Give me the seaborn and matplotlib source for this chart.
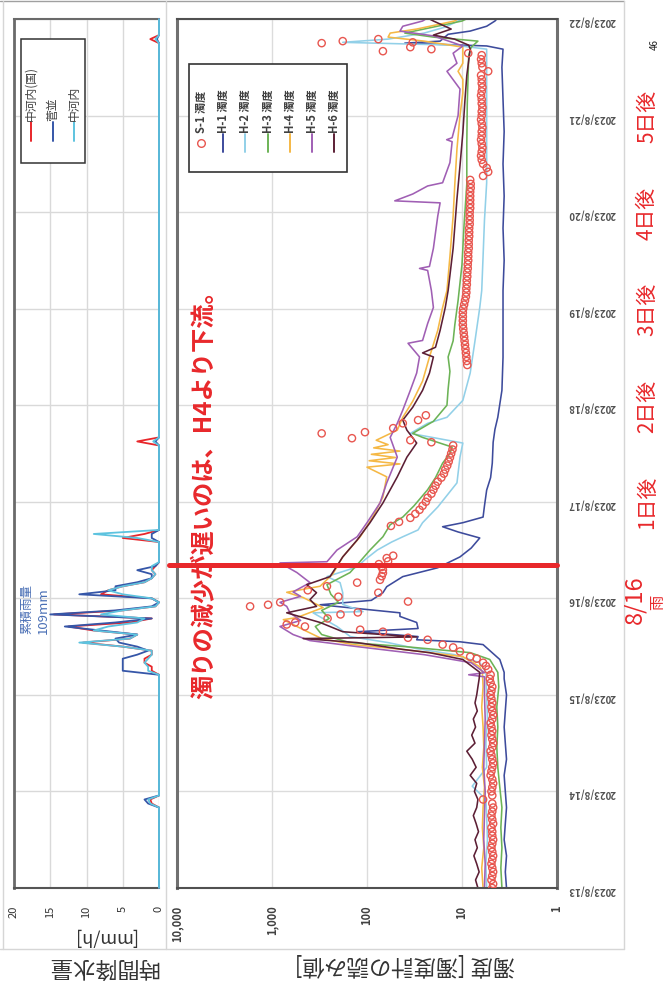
import numpy as np
import matplotlib
matplotlib.use("Agg")
import matplotlib.pyplot as plt
from matplotlib.lines import Line2D
from matplotlib.patches import Rectangle
import seaborn as sns

sns.set_style("white")
plt.rcParams["font.family"] = ["Noto Sans CJK JP", "DejaVu Sans"]

W, H = 669, 995

# ---------------- time axis (hours from 2023/8/13 00:00) ----------------
day_ticks = [0, 24, 48, 72, 96, 120, 144, 168, 192, 216]
day_labels = ["2023/8/13", "2023/8/14", "2023/8/15", "2023/8/16", "2023/8/17",
              "2023/8/18", "2023/8/19", "2023/8/20", "2023/8/21", "2023/8/22"]

# ---------------- hourly rainfall [mm/h] ----------------
rain_hours = [0, 20, 21, 22, 23,
              53, 54, 55, 56, 57, 58, 59, 60, 61, 62,
              63, 64, 65, 66, 67, 68, 69, 70, 71, 72,
              73, 74, 75, 76, 77, 78, 79, 80, 81,
              86, 87, 88, 89,
              110, 111, 112,
              210, 211, 212, 216]
rain_nakanokawachi_kuni = [0, 0, 1.0, 1.2, 0,
                           0, 1, 1, 2, 2, 1, 1, 5, 10.5, 4,
                           3, 9, 12.5, 4, 1, 14.5, 5, 0.5, 0, 1,
                           8, 7, 5, 2, 1, 0.5, 1, 0.5, 0,
                           0, 5, 2, 0,
                           0, 3, 0,
                           0, 1.2, 0, 0]
rain_sugenami = [0, 0, 1.5, 2.0, 0,
                 0, 5, 5, 5, 5, 3, 1.5, 3, 5.5, 6,
                 3, 8, 13, 6, 1, 15, 6, 1, 0, 1,
                 11, 6, 6, 3, 1, 1, 3, 0.5, 0,
                 0, 1, 1, 0,
                 0, 0.5, 0,
                 0, 0.3, 0, 0]
rain_nakanokawachi = [0, 0, 1.2, 1.5, 0,
                      0, 1.5, 1.5, 2, 1.5, 1, 1, 5, 11, 4,
                      3, 9, 7, 3, 2, 8, 5, 0.5, 0, 1,
                      5, 7, 5, 2, 1, 0.5, 1, 1, 0,
                      0, 3, 9, 0,
                      0, 0.8, 0,
                      0, 0.5, 0, 0]
rain_names = ["中河内(国)", "菅並", "中河内"]
rain_colors = ["#E8262A", "#3556A8", "#5DC3DF"]

# ---------------- turbidity readings ----------------
h1_hours = [0, 4, 8, 12, 16, 20, 24, 28, 32, 36,
            40, 44, 48, 52, 53.6, 56.8, 60.5, 61.2, 61.7, 62.5,
            63.7, 64.5, 66, 67.5, 68.4, 70.4, 71.5, 73.4, 74.9, 77.4,
            79.6, 82.3, 84.5, 87, 88.5, 89.8, 90.8, 92.2, 95, 98.9,
            102, 105.6, 110.8, 114, 117, 123.7, 131.9, 140, 148.5, 156,
            164, 172, 180, 188, 196, 204, 208.5, 209.3, 210.0, 210.5,
            212.2, 213, 214.2, 215.5, 216]
h1_values = [3.4, 3.5, 3.4, 3.6, 3.5, 3.4, 3.5, 3.6, 3.4, 3.5,
             3.6, 3.5, 3.4, 3.6, 3.6, 4.0, 6.0, 10.5, 30, 29,
             127, 29, 30, 45, 45, 312, 90, 68, 62, 42,
             18, 10.5, 8.0, 6.5, 11, 16, 9.8, 6.0, 5.8, 5.5,
             5.0, 4.8, 4.7, 4.5, 4.2, 3.8, 3.7, 3.7, 3.7, 3.6,
             3.7, 3.6, 3.7, 3.6, 3.7, 3.8, 3.7, 5.5, 40, 17,
             14, 8.2, 5.5, 4.5, 4.3]

h2_hours = [0, 6, 12, 18, 22, 25.3, 30, 36, 42, 48,
            53.6, 56, 58, 59.5, 61, 62.5, 65, 68.4, 68.7, 70.5,
            73.4, 75.9, 77.4, 79.8, 81.6, 84, 86, 87.3, 89, 90.8,
            94.7, 100.7, 107.1, 110.6, 113, 115.5, 117, 121.2, 128, 136,
            144.3, 148.5, 157, 166, 175.3, 184, 191.9, 200, 208.5, 209.5,
            210.2, 211, 212.5, 214, 215.5, 216]
h2_values = [5.5, 5.6, 5.4, 5.5, 5.6, 7.8, 5.5, 5.6, 5.4, 5.5,
             5.6, 6.5, 12, 30, 60, 150, 207, 370, 110, 180,
             180, 192, 264, 127, 105, 78, 55, 42, 29, 26,
             18, 11.3, 10.5, 9.8, 35, 23, 14.4, 9.8, 8.2, 7.3,
             6.5, 6.2, 6.0, 5.8, 5.5, 5.5, 5.5, 5.5, 5.5, 12,
             180, 60, 25, 15, 11, 10]

h3_hours = [0, 5, 10, 15, 20, 25, 30, 35, 40, 45,
            50, 53.6, 56.8, 58.5, 60, 61, 63, 65, 67, 69,
            71, 73, 75.4, 78.4, 81, 84, 87.3, 90.3, 92.2, 95,
            99, 102, 105.6, 108, 109.6, 112, 113, 116, 120, 124,
            128.4, 132, 136, 140, 146, 155, 165, 175, 185, 195,
            203, 207, 209, 210.5, 211.5, 212.5, 214, 215.5, 216]
h3_values = [3.8, 3.9, 3.8, 3.9, 3.8, 4.0, 4.2, 4.3, 4.2, 4.3,
             4.1, 4.2, 5.1, 8.2, 40, 151, 300, 350, 250, 300,
             200, 240, 264, 151, 120, 93, 68, 57, 42, 32,
             23, 19, 16, 13.4, 12.7, 26, 33, 20, 14.4, 14,
             13.4, 14, 12.4, 11.9, 11, 10, 9.5, 8.9, 8.9, 8.8,
             8.6, 8.5, 8.0, 6.8, 20, 40, 20, 10, 9]

h4_hours = [0, 5, 10, 15, 20, 25, 30, 35, 40, 45,
            50, 53.6, 55, 57.5, 59.3, 60.5, 62, 64, 66.7, 67.2,
            69.7, 72.2, 73.5, 75, 78, 82.3, 87.3, 92.2, 97.2, 102.2,
            104.6, 105.4, 106.2, 107, 107.8, 108.6, 109.4, 110.2, 111.3, 113.8,
            117, 121, 126, 132, 138.6, 144.3, 148.5, 157, 167, 175,
            183.7, 192, 197.6, 201, 203, 205, 207.5, 209, 210.5, 211.5,
            212.5, 213.5, 215.5, 216]
h4_values = [6.0, 6.2, 5.9, 6.1, 6.0, 5.8, 6.1, 5.9, 6.0, 6.2,
             6.0, 6.1, 6.5, 9.8, 42, 140, 300, 450, 760, 550,
             290, 470, 700, 312, 230, 180, 118, 87, 68, 62,
             100, 45, 95, 50, 90, 45, 85, 60, 80, 48,
             42, 33, 26, 22, 18, 16, 14.4, 13.4, 12.4, 11.9,
             11.3, 10.5, 9.8, 9.8, 11, 9.8, 9.8, 9.8, 25, 60,
             57, 30, 12, 11]

h5_hours = [0, 6, 12, 18, 24, 30, 36, 42, 48, 52.5,
            53, 53.5, 56, 58, 60, 61.5, 63, 65, 66.5, 68.4,
            70, 71, 72.5, 73.6, 75.9, 78.4, 80.8, 81.1, 84, 87.3,
            90.8, 95.7, 100.7, 107.1, 112, 115.5, 118.8, 123.7, 128, 132,
            135.4, 136.1, 140.3, 144.3, 148.5, 153.5, 154, 154.5, 159, 167,
            170.3, 170.8, 172.5, 174.5, 175.3, 180.3, 185.5, 186, 186.5, 192,
            198.6, 203, 205, 207.5, 209.3, 211.8, 213, 214.2, 215.5, 216]
h5_values = [5.8, 5.7, 5.9, 5.8, 5.7, 5.9, 5.8, 5.7, 5.8, 5.8,
             8.5, 5.8, 8, 25, 127, 400, 600, 824, 500, 646,
             700, 824, 500, 600, 398, 546, 824, 264, 207, 127,
             100, 73, 62, 48, 57, 48, 42, 35, 30, 28,
             37, 26, 23, 20, 21, 23, 28, 22, 20, 18,
             17, 51, 33, 23, 16, 13.4, 12.7, 14.5, 12.7, 11,
             10.5, 14.4, 11.3, 12.4, 9.8, 20, 45, 42, 26, 24]

h6_hours = [0, 2, 4, 6, 8, 10, 12, 14, 16, 18,
            20, 22, 24, 26, 28, 30, 32, 34, 36, 38,
            40, 42, 44, 46, 48, 50, 52, 53.6, 56.8, 58.5,
            59.3, 61, 62, 62.4, 63.7, 66, 68.4, 70, 71.7, 73.4,
            75.4, 77.4, 82.3, 86.5, 90.8, 95.7, 102.2, 107.1, 110.6, 113.8,
            116.3, 119.5, 123.7, 128, 132, 133, 134.4, 138.6, 144.3, 148.5,
            159, 171.3, 179.5, 187.7, 196, 202, 208.5, 209.5, 211, 212,
            213.5, 215.5, 216]
h6_values = [6.8, 7.2, 6.6, 7.0, 7.5, 6.9, 7.3, 6.7, 7.1, 7.6,
             7.0, 6.8, 7.4, 7.0, 8.2, 7.1, 7.8, 8.9, 7.3, 7.9,
             7.2, 7.6, 6.9, 7.3, 7.0, 6.8, 6.6, 6.5, 9.8, 22,
             42, 127, 470, 30, 180, 312, 700, 340, 398, 340,
             430, 245, 180, 127, 93, 68, 48, 38, 30, 38,
             42, 33, 26, 22, 20, 26, 19, 17, 15, 14,
             12.4, 11.3, 10.5, 9.8, 9.3, 8.9, 8.2, 8.5, 12, 20,
             13, 20, 22]

# S-1 hourly readings (gaps where the sensor has no record)
s1_pre_start = 0
s1_pre_values = [4.8, 4.7, 4.9, 4.8, 4.7, 4.8, 4.9, 4.8, 4.7, 4.8, 4.9, 4.8,
                 4.7, 4.8, 4.8, 4.9, 4.7, 4.8, 4.9, 4.8, 4.7, 4.8, 6.0, 4.8,
                 4.9, 4.8, 4.7, 4.8, 5.0, 4.9, 4.8, 4.7, 4.8, 4.9, 5.0, 4.8,
                 4.7, 4.8, 4.9, 4.8, 4.9, 5.0, 4.8, 4.7, 4.8, 4.9, 4.8, 4.9,
                 5.0, 4.9, 4.8, 5.0, 5.1, 5.0]
s1_event_hours = [54.3, 55.2, 56, 57, 57.5, 58.8, 59.8, 60.5, 61.7, 62.2,
                  63.7, 64.2, 65, 65.5, 66, 67, 68, 68.5, 70, 70.4,
                  71, 71.2, 72.4, 73.4, 74, 75, 75.9, 76.6, 77.5, 78.3,
                  79.1, 79.8, 80.5, 81.2, 82, 82.6]
s1_event_values = [5.3, 5.6, 6.0, 7.0, 8.2, 10.5, 12.4, 16, 23, 37,
                   68, 118, 450, 700, 570, 260, 190, 125, 1700, 1100,
                   820, 37, 200, 76, 420, 264, 127, 73, 70, 68,
                   68, 70, 75, 60, 62, 53]
s1_fall_start = 90
s1_fall_values = [56, 46, 35, 31, 28, 26, 24, 23, 21, 20, 19, 18, 16.5, 15.5,
                  15, 14.3, 13.8, 13.4, 13, 12.6, 12.4]
s1_scatter_hours = [110.8, 111.3, 111.8, 113, 113.3, 114.3, 115.5, 116.3, 117.5]
s1_scatter_values = [21, 35, 144, 300, 105, 53, 42, 29, 24]
s1_mid_start = 130
s1_mid_values = [8.8, 8.9, 9.0, 9.1, 9.2, 9.3, 9.4, 9.5, 9.6, 9.7, 9.8, 9.8,
                 9.8, 9.8, 9.7, 9.5, 9.3, 9.1, 9.0, 9.0, 8.9, 8.9, 8.8, 8.8,
                 8.7, 8.7, 8.6, 8.6, 8.6, 8.5, 8.5, 8.5, 8.4, 8.4, 8.4, 8.3,
                 8.3, 8.3, 8.3, 8.2, 8.2, 8.2, 8.2, 8.2, 8.1, 8.1, 8.2]
s1_cluster_hours = [177, 178, 179, 180]
s1_cluster_values = [6.0, 5.3, 5.5, 6.0]
s1_late_start = 181
s1_late_values = [6.2, 6.3, 6.2, 6.1, 6.2, 6.3, 6.2, 6.2, 6.1, 6.2, 6.3, 6.2,
                  6.2, 6.1, 6.2, 6.2, 6.3, 6.2, 6.1, 6.2, 6.2, 6.3, 5.3, 6.1,
                  6.2, 6.3, 6.2]
s1_end_hours = [207.5, 208, 208.5, 209, 210, 210.2, 210.5, 211]
s1_end_values = [8.6, 68, 21, 35, 300, 33, 180, 76]

turb_names = ["H-1 濁度", "H-2 濁度", "H-3 濁度", "H-4 濁度", "H-5 濁度", "H-6 濁度"]
turb_colors = ["#3D4B9C", "#92D0E8", "#6CB356", "#F5B845", "#A05FB4", "#5C1F35"]
s1_name = "S-1 濁度"
s1_color = "#E8564F"

turb_ticks = [10000, 1000, 100, 10, 1]
turb_ticklabels = ["10,000", "1,000", "100", "10", "1"]
rain_ticks = [20, 15, 10, 5, 0]

RED = "#E8282B"
event_hour = 80.3

# ---------------- figure ----------------
fig = plt.figure(figsize=(W / 100, H / 100), dpi=100)


def fig_xy(x, y):
    return x / W, 1 - y / H


def add_axes_px(x0, y0, x1, y1):
    return fig.add_axes([x0 / W, 1 - y1 / H, (x1 - x0) / W, (y1 - y0) / H])


# faint panel frame
for xs, ys, col in [((0, 624), (2, 2), "#A0A0A0"),
                    ((3, 3), (2, 950), "#D6D6D6"),
                    ((166, 166), (2, 950), "#D6D6D6"),
                    ((624, 624), (2, 950), "#D6D6D6"),
                    ((0, 624), (950, 950), "#D6D6D6")]:
    fig.add_artist(Line2D([x / W for x in xs], [1 - y / H for y in ys],
                          color=col, lw=1, transform=fig.transFigure, zorder=0))

ax_rain = add_axes_px(14, 20, 159, 889)
ax_turb = add_axes_px(177, 20, 557, 889)

# ---- rainfall panel ----
rain_series = [rain_nakanokawachi_kuni, rain_sugenami, rain_nakanokawachi]
for vals, col in zip(rain_series, rain_colors):
    sns.lineplot(x=vals, y=rain_hours, orient="y", sort=False, estimator=None,
                 color=col, lw=1.3, ax=ax_rain)
for ln in ax_rain.lines:
    ln.set_clip_on(False)
    ln.set_zorder(3)
ax_rain.set_xlim(20, 0)
ax_rain.set_ylim(0, 216)
ax_rain.set_xticks(rain_ticks)
ax_rain.set_xticklabels([str(t) for t in rain_ticks], rotation=90, fontsize=8,
                        color="#333333")
ax_rain.set_yticks(day_ticks)
ax_rain.set_yticklabels([])
ax_rain.tick_params(axis="both", length=0)
ax_rain.tick_params(axis="x", pad=12)
ax_rain.set_xlabel("")
ax_rain.set_ylabel("")
ax_rain.grid(True, color="#D9D9D9", lw=1)
ax_rain.set_axisbelow(True)
for side, lw, col in [("left", 2, "#6A6A6A"), ("top", 1.5, "#6A6A6A"),
                      ("bottom", 1.5, "#555555")]:
    ax_rain.spines[side].set_linewidth(lw)
    ax_rain.spines[side].set_color(col)
ax_rain.spines["right"].set_visible(False)

fig.text(*fig_xy(27, 634), "累積雨量", rotation=90, ha="center", va="bottom",
         fontsize=9, color="#4A6FB5")
fig.text(*fig_xy(43, 634), "109mm", rotation=90, ha="center", va="bottom",
         fontsize=9.5, color="#4A6FB5")

# rainfall legend
fig.add_artist(Rectangle(fig_xy(21, 164), 64 / W, 124 / H, transform=fig.transFigure,
                         facecolor="white", edgecolor="#333333", lw=1.1, zorder=5))
for xpos, name, col in zip([31, 53, 74], rain_names, rain_colors):
    fig.add_artist(Line2D([xpos / W] * 2, [1 - 123 / H, 1 - 142 / H], color=col,
                          lw=1.4, transform=fig.transFigure, zorder=6))
    fig.text(*fig_xy(xpos, 121), name, rotation=90, ha="center", va="bottom",
             fontsize=8.5, color="#404040", zorder=6)

# ---- turbidity panel ----
ax_turb.set_xscale("log")
turb_series = [(h1_hours, h1_values), (h2_hours, h2_values), (h3_hours, h3_values),
               (h4_hours, h4_values), (h5_hours, h5_values), (h6_hours, h6_values)]
for (hrs, vals), col in zip(turb_series, turb_colors):
    sns.lineplot(x=vals, y=hrs, orient="y", sort=False, estimator=None,
                 color=col, lw=1.15, ax=ax_turb)

s1_hours = (list(np.arange(s1_pre_start, s1_pre_start + len(s1_pre_values)))
            + s1_event_hours
            + list(np.arange(s1_fall_start, s1_fall_start + len(s1_fall_values)))
            + s1_scatter_hours
            + list(np.arange(s1_mid_start, s1_mid_start + len(s1_mid_values)))
            + s1_cluster_hours
            + list(np.arange(s1_late_start, s1_late_start + len(s1_late_values)))
            + s1_end_hours)
s1_values = (s1_pre_values + s1_event_values + s1_fall_values + s1_scatter_values
             + s1_mid_values + s1_cluster_values + s1_late_values + s1_end_values)
sns.scatterplot(x=s1_values, y=s1_hours, color=s1_color, s=27, ax=ax_turb, zorder=4)
pts = ax_turb.collections[-1]
pts.set_facecolor("none")
pts.set_edgecolor(s1_color)
pts.set_linewidth(1.0)

ax_turb.set_xlim(10000, 1)
ax_turb.set_ylim(0, 216)
ax_turb.set_xticks(turb_ticks)
ax_turb.set_xticklabels(turb_ticklabels, rotation=90, fontsize=8, fontweight="bold",
                        color="#404040")
ax_turb.xaxis.set_minor_locator(matplotlib.ticker.NullLocator())
ax_turb.set_yticks(day_ticks)
ax_turb.set_yticklabels(day_labels, rotation=180, fontsize=7, fontweight="bold",
                        color="#505050")
ax_turb.yaxis.tick_right()
ax_turb.tick_params(axis="both", length=0)
ax_turb.tick_params(axis="x", pad=12)
ax_turb.tick_params(axis="y", pad=8)
ax_turb.set_xlabel("")
ax_turb.set_ylabel("")
ax_turb.grid(True, which="major", color="#DCDCDC", lw=1)
ax_turb.set_axisbelow(True)
for side, lw, col in [("left", 2.2, "#707070"), ("right", 2.2, "#707070"),
                      ("top", 1.5, "#505050"), ("bottom", 1.5, "#505050")]:
    ax_turb.spines[side].set_linewidth(lw)
    ax_turb.spines[side].set_color(col)

# turbidity legend
fig.add_artist(Rectangle(fig_xy(189, 173), 158 / W, 108 / H, transform=fig.transFigure,
                         facecolor="white", edgecolor="#333333", lw=1.2, zorder=5))
leg_x = [201, 223, 245, 268, 290, 312, 334]
fig.add_artist(Line2D([leg_x[0] / W], [1 - 144 / H], marker="o", ms=5.5, mfc="none",
                      mec=s1_color, mew=1.0, transform=fig.transFigure, zorder=6))
fig.text(*fig_xy(leg_x[0], 133), s1_name, rotation=90, ha="center", va="bottom",
         fontsize=8, fontweight="bold", color="#404040", zorder=6)
for xpos, name, col in zip(leg_x[1:], turb_names, turb_colors):
    fig.add_artist(Line2D([xpos / W] * 2, [1 - 135 / H, 1 - 153 / H], color=col,
                          lw=1.4, transform=fig.transFigure, zorder=6))
    fig.text(*fig_xy(xpos, 133), name, rotation=90, ha="center", va="bottom",
             fontsize=8, fontweight="bold", color="#404040", zorder=6)

# event marker line and annotations
ax_turb.axhline(event_hour, xmin=-0.02, xmax=1.0, color=RED, lw=3.6,
                clip_on=False, zorder=10)
fig.text(*fig_xy(205, 489), "濁りの減少が遅いのは、H4より下流。", rotation=90,
         ha="center", va="center", fontsize=17.5, fontweight="bold", color=RED)

after_labels = ["1日後", "2日後", "3日後", "4日後", "5日後"]
for lab, tick in zip(after_labels, day_ticks[4:9]):
    ypix = 889 - tick * (869 / 216)
    fig.text(*fig_xy(647, ypix), lab, rotation=90, ha="center", va="center",
             fontsize=15, color=RED)
fig.text(*fig_xy(635, 600), "8/16", rotation=90, ha="center", va="center",
         fontsize=17, color=RED)
fig.text(*fig_xy(658, 602), "雨", rotation=90, ha="center", va="center",
         fontsize=11, color=RED)
fig.text(*fig_xy(655, 45), "46", rotation=90, ha="center", va="center",
         fontsize=7, color="#222222")

# axis titles
fig.text(*fig_xy(104, 937), "[mm/h]", rotation=180, ha="center", va="center",
         fontsize=13, color="#333333")
fig.text(*fig_xy(103, 967), "時間降水量", rotation=180, ha="center", va="center",
         fontsize=16, color="#333333")
fig.text(*fig_xy(405, 965), "濁度 [濁度計の読み値]", rotation=180, ha="center",
         va="center", fontsize=16, color="#333333")

fig.savefig("out.png", dpi=100)
